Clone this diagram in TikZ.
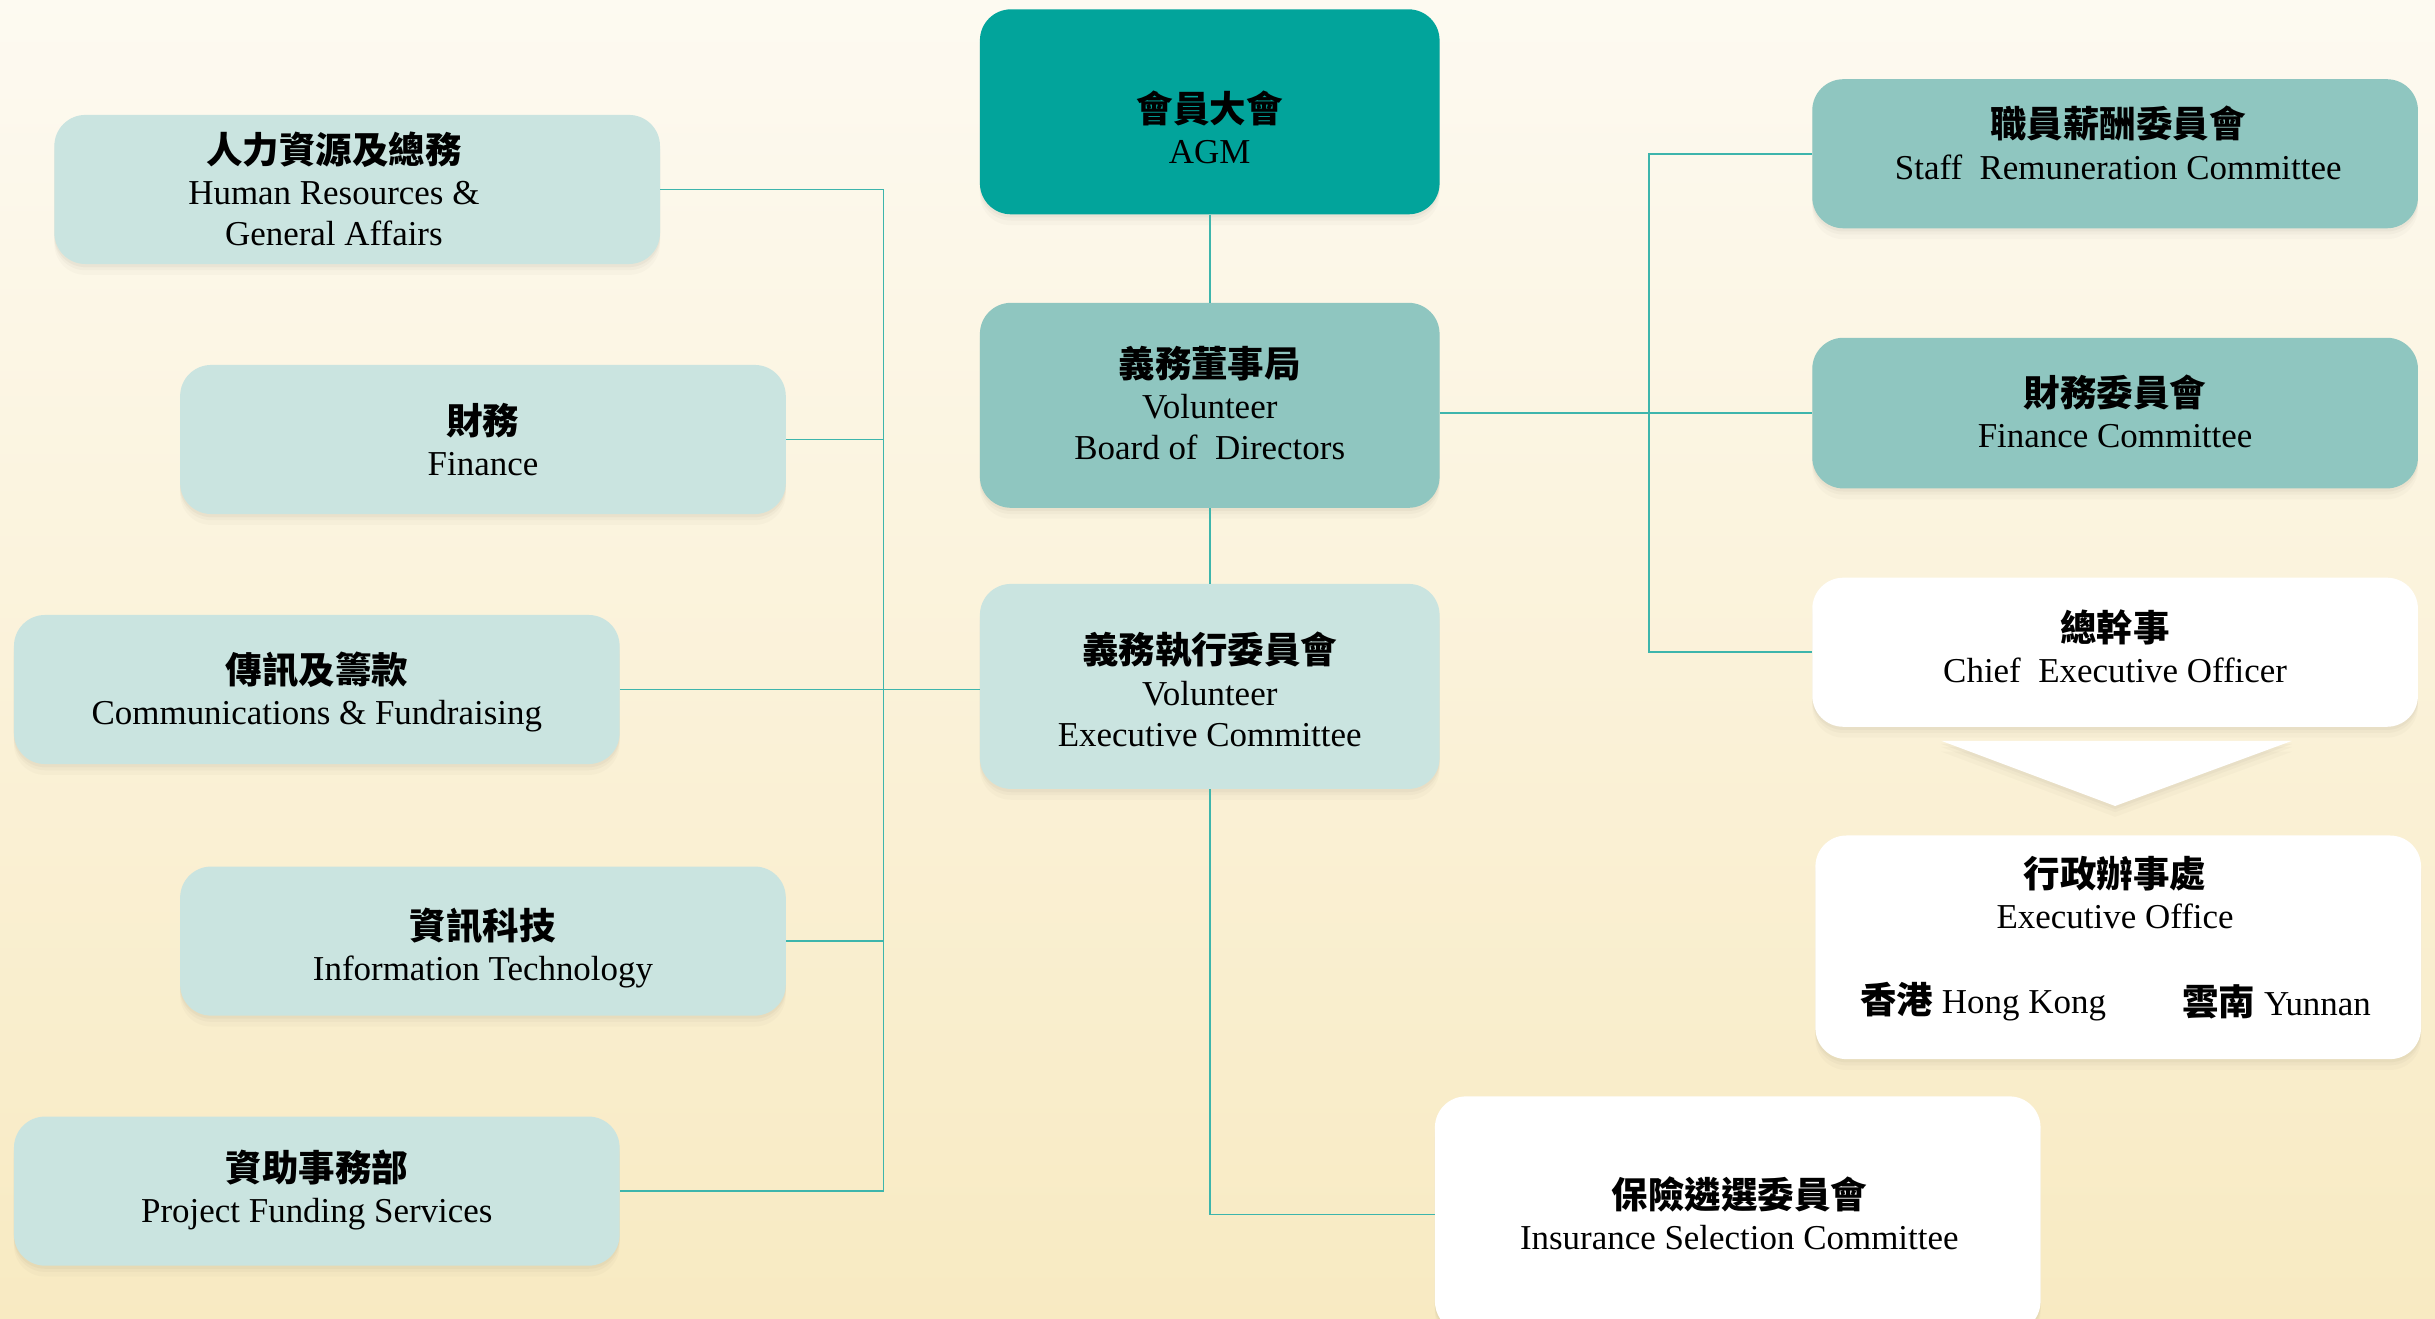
\documentclass[tikz,border=0pt]{standalone}
\usepackage{fontspec}
\setmainfont{Liberation Serif}
\newfontfamily\cjkb{Noto Sans CJK TC}
\usetikzlibrary{shadows}
\definecolor{agmc}{HTML}{02A49B}
\definecolor{midc}{HTML}{8FC6C0}
\definecolor{litc}{HTML}{CAE4E0}
\definecolor{linec}{HTML}{3DB5AC}
\definecolor{bgtop}{HTML}{FDFAF1}
\definecolor{bgmid}{HTML}{FCF8EC}
\definecolor{bgbot}{HTML}{F8EAC2}
\definecolor{shc}{HTML}{6E6450}
\newcommand{\zh}[1]{{\cjkb\bfseries\fontsize{23.5}{26.5}\selectfont #1}}
\begin{document}
\begin{tikzpicture}[x=1pt,y=-1pt,
  softshadow/.style={
    drop shadow={shadow xshift=0pt,shadow yshift=-2pt,opacity=0.05,fill=shc},
    drop shadow={shadow xshift=0pt,shadow yshift=-4pt,opacity=0.04,fill=shc},
    drop shadow={shadow xshift=0pt,shadow yshift=-7pt,opacity=0.03,fill=shc}},
  box/.style={draw=none, rounded corners=20pt, inner sep=0pt, softshadow},
  cbox/.style={box, minimum width=296pt, minimum height=132pt},
  sbox/.style={box, minimum width=390pt, minimum height=96pt},
  txt/.style={align=center, inner sep=0pt, font=\fontsize{22.5}{26.5}\selectfont},
  conn/.style={draw=linec, line width=1.1pt}
]
\useasboundingbox (0,0) rectangle (1568,849);
\clip (0,0) rectangle (1568,849);
\shade[top color=bgtop, middle color=bgmid, bottom color=bgbot] (0,0) rectangle (1568,849);

% bus coordinates
\coordinate (bl) at (569,0);
\coordinate (br) at (1062,0);

% centre column
\node[cbox, fill=agmc] (agm) at (779,72) {};
\node[cbox, fill=midc] (board) at (779,261) {};
\node[cbox, fill=litc] (exec) at (779,442) {};

% left column
\node[sbox, fill=litc] (hr) at (230,122) {};
\node[sbox, fill=litc] (fin) at (311,283) {};
\node[sbox, fill=litc] (comm) at (204,444) {};
\node[sbox, fill=litc] (it) at (311,606) {};
\node[sbox, fill=litc] (pfs) at (204,767) {};

% right column
\node[sbox, fill=midc] (staff) at (1362,99) {};
\node[sbox, fill=midc, minimum height=97pt] (fincom) at (1362,266) {};
\node[sbox, fill=white] (ceo) at (1362,420) {};
\node[sbox, fill=white, minimum height=144pt] (eo) at (1364,610) {};
\node[sbox, fill=white, minimum height=152pt] (ins) at (1119,782) {};

% pointer from CEO to Executive Office
\fill[white, softshadow] (1250,477) -- (1476,477) -- (1362,519) -- cycle;

% connectors
\draw[conn] (agm) -- (board);
\draw[conn] (board) -- (exec);
\draw[conn] (hr.east) -| (bl |- pfs.east) -- (pfs.east);
\draw[conn] (fin.east) -- (fin.east -| bl);
\draw[conn] (it.east) -- (it.east -| bl);
\draw[conn] (comm.east) -- (comm.east -| exec.west);
\draw[conn] (exec.south) |- (ins.west);
\draw[conn] (fincom.west -| board.east) -- (fincom.west);
\draw[conn] (staff.west) -| (br |- ceo.west) -- (ceo.west);

% texts
\node[txt] (agmT) at (779,82) {\zh{會員大會}\\AGM};
\node[txt] (boardT) at (779,259.5) {\zh{義務董事局}\\Volunteer\\Board of\ \ Directors};
\node[txt] (execT) at (779,444) {\zh{義務執行委員會}\\Volunteer\\Executive Committee};
\node[txt] (hrT) at (215,121.5) {\zh{人力資源及總務}\\Human Resources \&\\General Affairs};
\node[txt] (finT) at (311,283) {\zh{財務}\\Finance};
\node[txt] (commT) at (204,445.5) {\zh{傳訊及籌款}\\Communications \& Fundraising};
\node[txt] (itT) at (311,610.5) {\zh{資訊科技}\\Information Technology};
\node[txt] (pfsT) at (204,766.5) {\zh{資助事務部}\\Project Funding Services};
\node[txt] (staffT) at (1364,92) {\zh{職員薪酬委員會}\\Staff\ \ Remuneration Committee};
\node[txt] (fincomT) at (1362,265) {\zh{財務委員會}\\Finance Committee};
\node[txt] (ceoT) at (1362,416) {\zh{總幹事}\\Chief\ \ Executive Officer};
\node[txt] (eoT) at (1362,575) {\zh{行政辦事處}\\Executive Office};
\node[txt] (hkT) at (1277,645) {\zh{香港} Hong Kong};
\node[txt] (ynT) at (1466,645) {\zh{雲南} Yunnan};
\node[txt] (insT) at (1120,781.5) {\zh{保險遴選委員會}\\Insurance Selection Committee};
\end{tikzpicture}
\end{document}
